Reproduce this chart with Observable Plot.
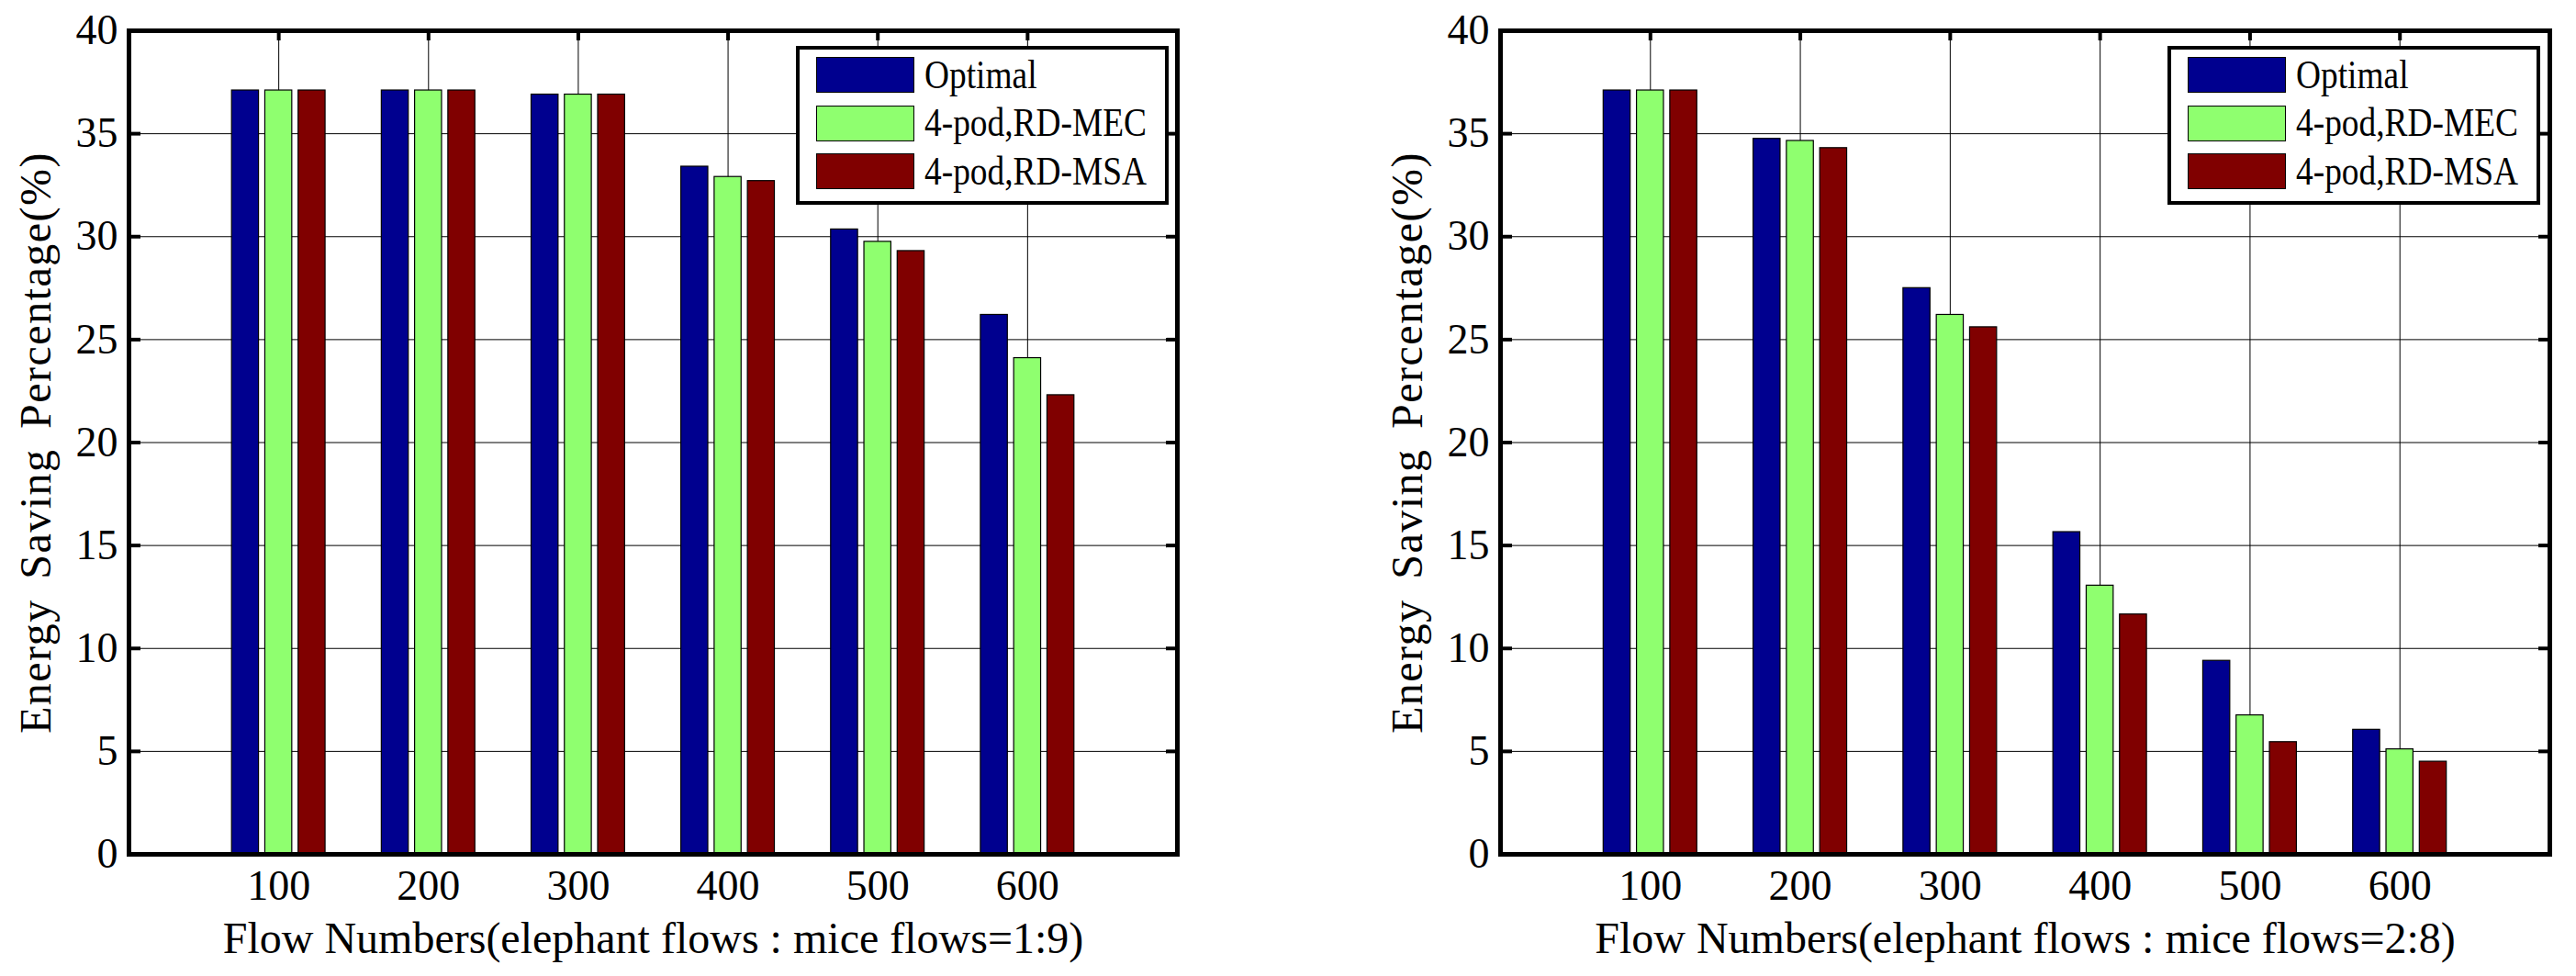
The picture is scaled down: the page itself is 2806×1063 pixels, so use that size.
<!DOCTYPE html>
<html>
<head>
<meta charset="utf-8">
<script src="https://cdn.jsdelivr.net/npm/d3@7"></script>
<script src="https://cdn.jsdelivr.net/npm/@observablehq/plot@0.6"></script>
<style>
html, body { margin: 0; padding: 0; background: #fff; }
#wrap { position: relative; width: 2806px; height: 1063px; display: flex; overflow: hidden; background: #fff; }
.legend { position: absolute; top: 50px; width: 406px; height: 173px; box-sizing: border-box;
  border: 4.5px solid #000; background: #fff; padding: 8px 0 0 18px; }
.row { display: flex; align-items: center; height: 39px; margin-bottom: 13.5px; }
.sw { width: 107px; height: 39px; box-sizing: border-box; border: 1.2px solid #000; flex: none; }
.lab { margin-left: 11px; font-family: "Liberation Serif", "Times New Roman", serif; font-size: 44px;
  line-height: 1; white-space: nowrap; transform: scaleX(0.85); transform-origin: left center; color: #000; }
svg [aria-label="y-axis label"] text { letter-spacing: 1.5px; word-spacing: 8px; font-size: 48px; }
svg [aria-label="x-axis label"] text { font-size: 48px; }
</style>
</head>
<body>
<div id="wrap"></div>
<script>
// ---- data ----
const flows = [100, 200, 300, 400, 500, 600];
const seriesNames = ["Optimal", "4-pod,RD-MEC", "4-pod,RD-MSA"];
const seriesColors = ["#00008F", "#8FFF6F", "#800000"];

// chart 1: elephant : mice = 1:9
const optimal19 = [37.1, 37.1, 36.9, 33.4, 30.35, 26.2];
const mec19     = [37.1, 37.1, 36.9, 32.9, 29.75, 24.1];
const msa19     = [37.1, 37.1, 36.9, 32.7, 29.3, 22.3];

// chart 2: elephant : mice = 2:8
const optimal28 = [37.1, 34.75, 27.5, 15.65, 9.4, 6.05];
const mec28     = [37.1, 34.65, 26.2, 13.05, 6.75, 5.1];
const msa28     = [37.1, 34.3, 25.6, 11.65, 5.45, 4.5];

const yTicks = [0, 5, 10, 15, 20, 25, 30, 35, 40];
const yInnerTicks = [5, 10, 15, 20, 25, 30, 35];
const xTickIndex = [1, 2, 3, 4, 5, 6];
const yLabel = "Energy Saving Percentage(%)";
const xLabel19 = "Flow Numbers(elephant flows : mice flows=1:9)";
const xLabel28 = "Flow Numbers(elephant flows : mice flows=2:8)";

// ---- layout constants (MATLAB grouped bar geometry) ----
const barOffsets = [-2 / 9, 0, 2 / 9];
const barHalf = 0.09;

function toRows(lists) {
  return lists.flatMap((vals, k) => vals.map((v, i) => ({
    flow: flows[i], idx: i + 1, k, series: seriesNames[k], value: v
  })));
}

const font = '"Liberation Serif", "Times New Roman", serif';

function chart(rows, xLabel, marginLeft, marginRight) {
  return Plot.plot({
    width: 1403,
    height: 1063,
    marginTop: 33,
    marginBottom: 133,
    marginLeft,
    marginRight,
    style: { background: "white", color: "black", fontFamily: font, fontSize: "46px", overflow: "visible" },
    x: { domain: [0, 7] },
    y: { domain: [0, 40] },
    color: { domain: seriesNames, range: seriesColors },
    marks: [
      Plot.gridY(yInnerTicks, { stroke: "black", strokeOpacity: 1, strokeWidth: 1 }),
      Plot.gridX(xTickIndex, { stroke: "black", strokeOpacity: 1, strokeWidth: 1 }),
      Plot.axisY({ anchor: "left", ticks: yInnerTicks, tickSize: -13, strokeWidth: 4, tickFormat: () => "", label: null }),
      Plot.axisY({ anchor: "right", ticks: yInnerTicks, tickSize: -13, strokeWidth: 4, tickFormat: () => "", label: null }),
      Plot.axisX({ anchor: "top", ticks: xTickIndex, tickSize: -10, strokeWidth: 4, tickFormat: () => "", label: null }),
      Plot.axisX({ anchor: "bottom", ticks: xTickIndex, tickSize: -10, strokeWidth: 4, tickFormat: () => "", label: null }),
      Plot.rect(rows, {
        x1: d => d.idx + barOffsets[d.k] - barHalf,
        x2: d => d.idx + barOffsets[d.k] + barHalf,
        y1: 0,
        y2: "value",
        fill: "series",
        stroke: "black",
        strokeWidth: 1.2
      }),
      Plot.frame({ stroke: "black", strokeWidth: 5 }),
      Plot.axisY({ anchor: "left", ticks: yTicks, tickSize: 0, tickPadding: 12,
        label: yLabel, labelAnchor: "center", labelOffset: 120, labelArrow: "none" }),
      Plot.axisX({ anchor: "bottom", ticks: xTickIndex, tickSize: 0, tickPadding: 17,
        tickFormat: i => String(flows[i - 1]),
        label: xLabel, labelAnchor: "center", labelOffset: 107, labelArrow: "none" })
    ]
  });
}

const wrap = document.getElementById("wrap");
wrap.appendChild(chart(toRows([optimal19, mec19, msa19]), xLabel19, 140, 121));
wrap.appendChild(chart(toRows([optimal28, mec28, msa28]), xLabel28, 231, 29));

function legend(left) {
  const box = document.createElement("div");
  box.className = "legend";
  box.style.left = left + "px";
  seriesNames.forEach((name, k) => {
    const row = document.createElement("div");
    row.className = "row";
    const sw = document.createElement("div");
    sw.className = "sw";
    sw.style.background = seriesColors[k];
    const lab = document.createElement("span");
    lab.className = "lab";
    lab.textContent = name;
    row.appendChild(sw);
    row.appendChild(lab);
    box.appendChild(row);
  });
  wrap.appendChild(box);
}
legend(867);
legend(2361);
</script>
</body>
</html>
